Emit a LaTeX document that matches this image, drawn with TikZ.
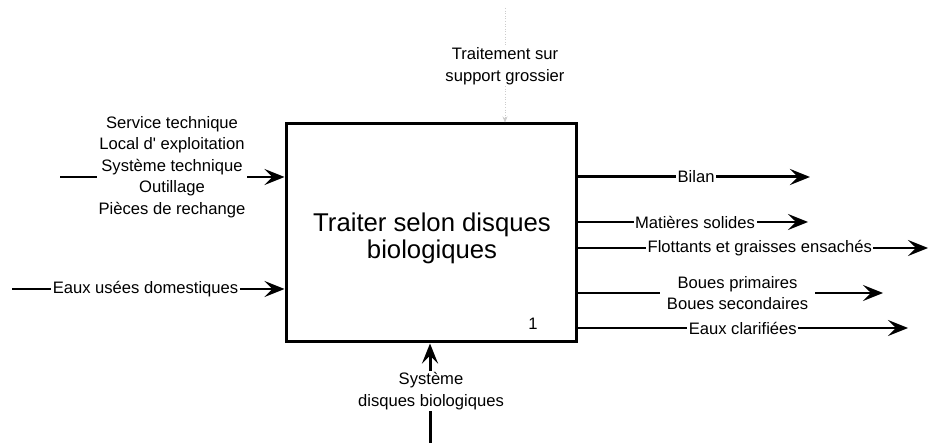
\documentclass[tikz,border=0pt]{standalone}
\usepackage{fontspec}
\setmainfont{Liberation Sans}
\usetikzlibrary{arrows.meta}
\begin{document}
\begin{tikzpicture}[x=1pt,y=-1pt,
  lab/.style={font=\fontsize{16.6}{21.5}\selectfont, align=center, inner sep=1.5pt},
  labw/.style={lab, fill=white},
  conn/.style={line width=2pt},
  tip/.style={-{Stealth[length=20pt,width=16pt,inset=8pt]}},
  arr/.style={conn, tip},
  bigarr/.style={line width=3pt, tip},
  faint/.style={gray!40, dotted, line width=0.6pt},
]
\useasboundingbox (0,0) rectangle (929,443);

% main activity box
\node[draw, line width=3pt, minimum width=290pt, minimum height=218pt, inner sep=0pt] (box) at (431,233) {};
\node[font=\fontsize{25.7}{27}\selectfont, align=center] (title) at (432,238) {Traiter selon disques\\biologiques};
\node[lab] (num) at (533,324) {1};

% left: controls
\coordinate (c1) at (60,177);
\node[lab] (ctrl) at (172,167) {Service technique\\Local d\textquotesingle{} exploitation\\Système technique\\Outillage\\Pièces de rechange};
\draw[conn] (c1) -- (c1 -| ctrl.west);
\draw[arr] (c1 -| ctrl.east) -- (c1 -| box.west);

% left: input
\coordinate (i1) at (12,289);
\draw[arr] (i1) -- node[labw, pos=0.49]{Eaux usées domestiques} (i1 -| box.west);

% right: outputs
\coordinate (o1) at (810,177);
\coordinate (o2) at (808,222);
\coordinate (o3) at (928,248);
\coordinate (o4) at (883,293);
\coordinate (o5) at (908,328);
\draw[bigarr] (o1 -| box.east) -- node[labw, pos=0.51]{Bilan} (o1);
\draw[arr] (o2 -| box.east) -- node[labw, pos=0.51]{Matières solides} (o2);
\draw[arr] (o3 -| box.east) -- node[labw, pos=0.52]{Flottants et graisses ensachés} (o3);
\draw[arr] (o4 -| box.east) -- node[labw, inner xsep=7pt, pos=0.524]{Boues primaires\\Boues secondaires} (o4);
\draw[arr] (o5 -| box.east) -- node[labw, pos=0.50]{Eaux clarifiées} (o5);

% bottom: mechanism
\node[lab] (mech) at (431,391) {Système\\disques biologiques};
\coordinate (m0) at (430,443);
\draw[line width=3pt] (m0) -- (m0 |- mech.south);
\draw[bigarr] (m0 |- mech.north) -- (m0 |- box.south);

% top: faint control
\coordinate (t0) at (505,8);
\node[lab] (mtop) at (505,66) {Traitement sur\\support grossier};
\draw[faint] (t0) -- (t0 |- mtop.north);
\draw[faint, -{Stealth[length=6pt,width=5pt]}] (t0 |- mtop.south) -- (t0 |- box.north);
\end{tikzpicture}
\end{document}
